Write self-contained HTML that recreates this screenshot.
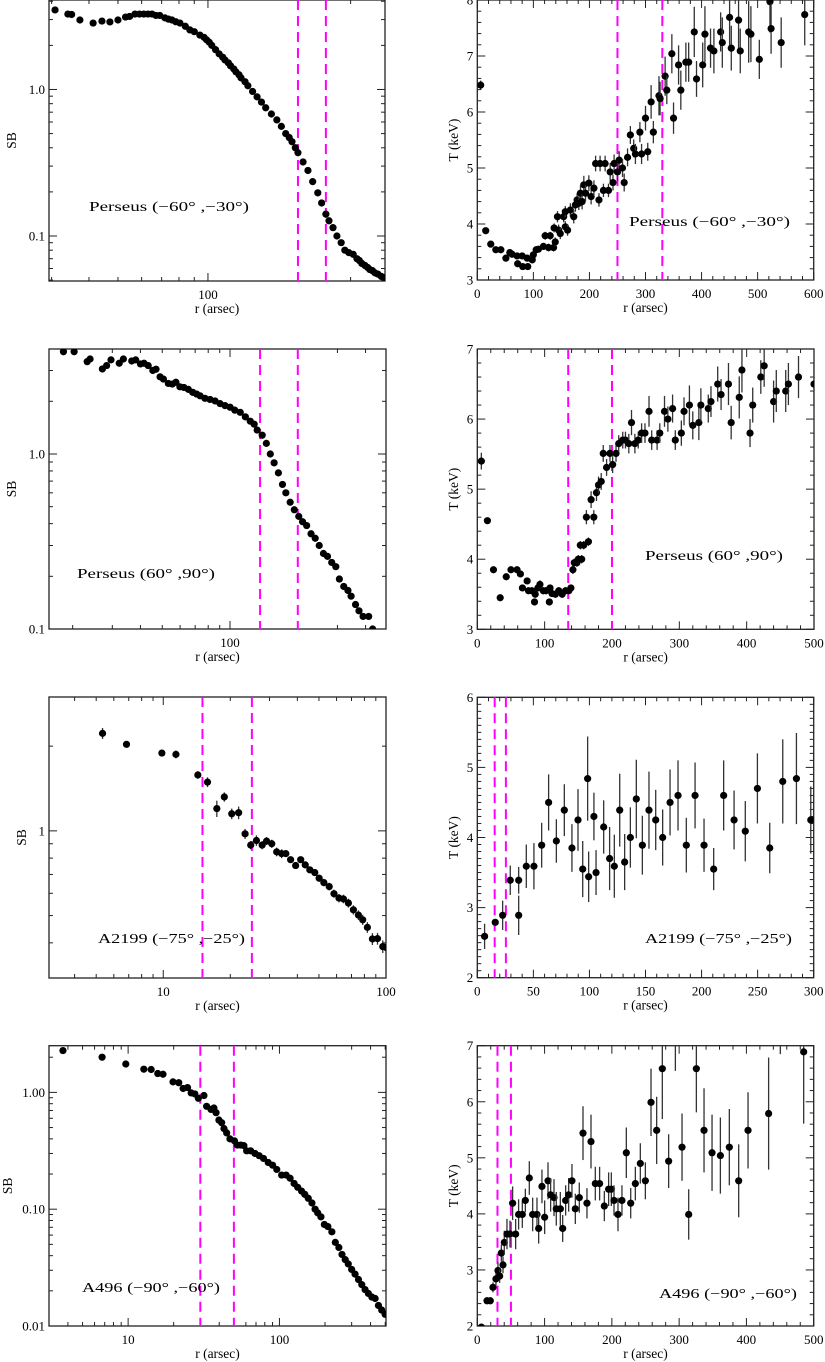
<!DOCTYPE html>
<html><head><meta charset="utf-8"><title>Temperature and surface brightness profiles</title>
<style>
html,body{margin:0;padding:0;background:#fff;}
svg{display:block;}
text{font-family:"Liberation Serif",serif;fill:#000;}
</style></head>
<body>
<svg id="fig" xmlns="http://www.w3.org/2000/svg" width="825" height="1362" viewBox="0 0 825 1362"></svg>
<script>
// ---------- Panel 1: Perseus (-60,-30) SB ----------
const p1R=[30.8,34,35,37.3,41.3,44.2,47,50,53,54.7,57,59,61,63,65,67,69,71.8,73.8,75.8,78,80.6,84,87,90,94,97,99,101,103,106,109,112,114,117,119,122,124,127,129,133,136,141,146,151,156,163,170,176,182,187,191,196,200,208,216,224,233,240,248,254,262,270,279,287,296,306,315,321,327,335,342,348,355,362,370,380,391];
const p1SB=[3.49,3.27,3.25,2.98,2.84,2.93,2.89,2.98,3.12,3.15,3.27,3.27,3.27,3.27,3.27,3.2,3.2,3.08,3.02,2.98,2.9,2.84,2.7,2.55,2.48,2.35,2.27,2.18,2.1,2.0,1.87,1.75,1.66,1.59,1.52,1.45,1.38,1.32,1.26,1.2,1.13,1.06,0.97,0.89,0.82,0.75,0.68,0.62,0.56,0.5,0.47,0.44,0.4,0.37,0.32,0.28,0.235,0.197,0.168,0.141,0.127,0.114,0.1,0.09,0.08,0.077,0.075,0.07,0.068,0.065,0.063,0.061,0.059,0.058,0.056,0.055,0.053,0.052];
const p1Lines=[200,248];
// ---------- Panel 2: Perseus (-60,-30) T ----------
const p2R=[6,15,24,33,42,51,58,62,71,72,80,81,89,90,98,100,105,109,118,121,127,130,136,139,137,143,145,148,154,157,157,161,166,172,175,178,181,184,187,190,193,199,203,208,211,217,219,225,228,234,237,242,244,250,253,259,262,268,273,279,282,290,293,300,304,310,314,324,326,335,338,347,350,359,363,372,377,387,391,402,406,416,422,434,437,450,453,466,469,484,488,503,522,524,542,584];
const p2T=[6.48,3.88,3.64,3.54,3.54,3.39,3.49,3.46,3.43,3.29,3.43,3.24,3.39,3.24,3.36,3.45,3.54,3.55,3.6,3.79,3.58,3.79,3.58,3.68,3.93,4.13,3.89,3.83,4.13,4.22,3.95,3.89,4.25,4.13,4.34,4.43,4.37,4.55,4.4,4.7,4.55,4.73,4.49,4.64,5.08,4.43,5.08,4.6,5.08,4.6,4.93,4.74,5.08,4.93,5.14,5.0,4.74,5.19,5.59,5.35,5.25,5.64,5.25,5.89,5.29,6.18,5.64,6.29,6.24,6.64,6.39,7.04,5.89,6.84,6.39,6.89,6.89,7.43,6.59,6.84,7.39,7.14,7.09,7.43,7.24,7.69,7.14,7.64,7.09,7.43,7.39,6.94,7.97,7.49,7.24,7.74];
const p2E=[0.08,0.04,0.06,0.04,0.04,0.04,0.05,0.05,0.05,0.05,0.05,0.05,0.05,0.05,0.06,0.06,0.06,0.06,0.06,0.07,0.07,0.07,0.07,0.08,0.08,0.1,0.1,0.1,0.1,0.1,0.1,0.1,0.12,0.12,0.12,0.12,0.12,0.14,0.14,0.16,0.14,0.14,0.14,0.14,0.14,0.12,0.14,0.12,0.14,0.12,0.16,0.14,0.16,0.16,0.16,0.16,0.16,0.16,0.16,0.16,0.18,0.18,0.18,0.22,0.16,0.3,0.2,0.35,0.3,0.35,0.25,0.35,0.28,0.35,0.35,0.35,0.35,0.45,0.32,0.4,0.5,0.35,0.4,0.35,0.45,0.5,0.4,0.55,0.4,0.55,0.5,0.35,0.55,0.45,0.45,0.55];
const p2Lines=[250,330];
// ---------- Panel 3: Perseus (60,90) SB ----------
const p3R=[18.2,20.3,23.2,23.9,27.1,28.3,29.6,32.2,33.6,36.6,38.1,40,41.5,43.3,45.4,46.9,48.9,50.6,53.2,55.4,57.5,59.9,62.4,65.3,68.3,71.1,73.6,77.4,81.5,85.8,90.3,95,100,105,111,117,123,128,132,139,145,151,157,164,171,177,185,193,202,210,219,229,239,249,260,271,283,295,306,320,334,345,361,374,390,413,430];
const p3SB=[3.84,3.84,3.37,3.49,3.06,3.2,3.45,3.3,3.49,3.4,3.45,3.27,3.3,3.2,3.0,3.05,2.76,2.68,2.53,2.51,2.57,2.42,2.4,2.34,2.25,2.2,2.15,2.08,2.05,2.01,1.94,1.89,1.85,1.78,1.73,1.63,1.54,1.48,1.37,1.28,1.15,1.0,0.89,0.78,0.67,0.6,0.53,0.48,0.44,0.41,0.39,0.35,0.33,0.30,0.27,0.26,0.24,0.227,0.193,0.175,0.166,0.154,0.138,0.127,0.118,0.118,0.1];
const p3Lines=[136,200];
// ---------- Panel 4: Perseus (60,90) T ----------
const p4R=[6,15,24,34,43,50,59,64,67,74,76,81,85,86,90,93,98,102,107,108,111,116,121,126,131,136,139,142,144,148,150,155,153,158,162,165,169,173,177,180,184,187,192,197,201,206,210,216,220,225,229,234,239,244,249,255,259,267,271,278,283,290,294,303,307,315,320,329,332,343,347,357,362,373,377,389,393,405,409,421,426,440,444,458,462,477,500];
const p4T=[5.40,4.55,3.85,3.45,3.75,3.85,3.85,3.79,3.59,3.69,3.55,3.55,3.39,3.5,3.59,3.64,3.55,3.55,3.39,3.59,3.51,3.5,3.55,3.5,3.55,3.55,3.59,3.85,3.95,3.95,4.0,4.0,4.2,4.2,4.6,4.25,4.85,4.6,4.95,5.06,5.11,5.51,5.31,5.51,5.35,5.51,5.65,5.7,5.7,5.65,5.95,5.65,5.7,5.8,5.8,6.11,5.7,5.7,5.8,6.11,6.0,6.15,5.7,5.8,6.11,6.2,5.91,5.95,6.2,6.15,6.25,6.5,6.35,6.5,5.95,6.31,6.7,5.8,6.2,6.6,6.76,6.25,6.4,6.4,6.5,6.6,6.5];
const p4E=[0.12,0.04,0.04,0.04,0.04,0.04,0.04,0.04,0.04,0.04,0.04,0.05,0.05,0.05,0.05,0.06,0.05,0.05,0.05,0.05,0.05,0.05,0.05,0.05,0.05,0.05,0.05,0.06,0.06,0.06,0.06,0.06,0.06,0.06,0.1,0.06,0.12,0.1,0.12,0.12,0.12,0.12,0.12,0.12,0.12,0.12,0.12,0.12,0.12,0.14,0.18,0.14,0.12,0.14,0.14,0.22,0.14,0.14,0.14,0.22,0.18,0.2,0.14,0.18,0.2,0.28,0.2,0.25,0.24,0.2,0.22,0.25,0.22,0.3,0.24,0.3,0.32,0.2,0.25,0.24,0.3,0.3,0.3,0.3,0.3,0.3,0.3];
const p4Lines=[135,200];
// ---------- Panel 5: A2199 (-75,-25) SB ----------
const p5R=[5.34,6.84,9.86,11.4,14.3,15.8,17.4,18.8,20.3,21.8,23.3,24.7,26.2,27.8,29.1,30.7,32.3,34.0,35.5,37.3,39.3,41.4,43.4,45.5,47.9,50.1,52.6,55.6,58.4,61.5,64.4,67.8,71.4,75.2,78.6,82.5,86.9,91.6,96.7,100];
const p5SB=[2.22,2.03,1.89,1.87,1.58,1.49,1.20,1.32,1.15,1.16,0.976,0.89,0.924,0.89,0.92,0.90,0.842,0.83,0.83,0.79,0.753,0.79,0.757,0.727,0.711,0.679,0.655,0.634,0.598,0.577,0.573,0.554,0.524,0.502,0.483,0.454,0.413,0.414,0.388,0.385];
const p5E=[0.1,0.05,0.05,0.06,0.05,0.06,0.08,0.05,0.05,0.06,0.04,0.03,0.04,0.03,0.03,0.03,0.03,0.03,0.02,0.02,0.02,0.02,0.02,0.02,0.02,0.02,0.02,0.02,0.02,0.02,0.02,0.02,0.02,0.02,0.02,0.02,0.02,0.02,0.02,0.02];
const p5Lines=[15,25];
// ---------- Panel 6: A2199 (-75,-25) T ----------
const p6R=[6.5,16,22.6,29.4,36.9,36.9,43.7,50.5,57.4,63.6,70.5,77.6,84.4,89.8,94,98.4,99.3,104,105.9,112.7,118,122.2,127,131.4,136.5,141.8,147.2,153.1,159.1,165.3,171.9,179,186.4,194.2,202.2,210.8,219.7,229,239,249.8,260.8,272.4,284.6,297.4];
const p6T=[2.59,2.79,2.89,3.39,3.39,2.89,3.59,3.59,3.89,4.5,3.95,4.39,3.85,4.25,3.55,4.84,3.44,4.3,3.5,4.15,3.7,3.59,4.39,3.65,4.0,4.55,3.89,4.39,4.25,4.0,4.5,4.6,3.89,4.6,3.89,3.55,4.6,4.25,4.09,4.7,3.85,4.8,4.84,4.25];
const p6E=[0.18,0.05,0.21,0.21,0.19,0.28,0.31,0.33,0.32,0.40,0.31,0.37,0.34,0.44,0.40,0.6,0.36,0.34,0.32,0.38,0.45,0.45,0.52,0.40,0.43,0.56,0.42,0.55,0.43,0.40,0.47,0.5,0.39,0.47,0.38,0.3,0.5,0.42,0.43,0.5,0.36,0.6,0.65,0.48];
const p6Lines=[15.5,25.5];
// ---------- Panel 7: A496 (-90,-60) SB ----------
const p7R=[3.71,6.73,9.65,12.7,14.2,15.7,17.0,19.8,21.6,23.1,24.7,26.1,27.6,29.1,31.7,33.0,35.3,36.9,38.1,39.8,41.5,43.0,44.8,47.1,50.4,52.7,55.5,58.2,60.7,64.5,68.9,73.4,78.5,84.3,90.1,96.0,103.4,110.7,117.6,125,132,140,147,155,164,172,179,188,198,209,222,234,247,259,272,285,300,316,333,350,368,387,408,429,451,474,499];
const p7SB=[2.28,2.0,1.75,1.58,1.57,1.45,1.43,1.23,1.21,1.08,1.1,0.99,0.97,0.89,0.94,0.76,0.715,0.735,0.67,0.58,0.55,0.49,0.45,0.40,0.385,0.354,0.354,0.35,0.316,0.316,0.30,0.287,0.272,0.251,0.238,0.219,0.196,0.196,0.184,0.166,0.154,0.143,0.134,0.124,0.113,0.10,0.093,0.086,0.074,0.071,0.064,0.052,0.047,0.041,0.037,0.034,0.0305,0.0278,0.025,0.0226,0.0205,0.019,0.0177,0.0172,0.015,0.0137,0.0126];
const p7Lines=[30,50];
// ---------- Panel 8: A496 (-90,-60) T ----------
const p8R=[6,14.4,19.3,23.3,27.7,30.7,33.2,35.7,38.2,40.1,44.1,48.6,52.5,57,61.4,66.9,71.4,77.3,82.3,88.7,91.2,96.1,100.1,105.1,109,114,117.4,123.4,126.9,131.3,135.8,140.7,145.7,151.6,157.1,163,169,175.4,181.8,188.8,195.2,199.2,203.2,209.1,215,221.5,228,234.9,242.3,249.8,258.2,266.6,275,284.4,294.4,304.3,314.2,325.6,337,348.9,361.3,374.6,388.5,402.4,433,450.4,485.1];
const p8T=[1.98,2.45,2.45,2.69,2.84,2.99,2.89,3.30,3.09,3.49,3.64,3.64,4.19,3.64,3.99,3.99,4.24,4.64,3.99,3.99,3.74,4.49,3.94,4.59,4.34,4.29,4.09,4.09,3.74,4.24,4.34,4.59,4.09,4.29,5.44,4.19,5.29,4.54,4.54,4.14,4.44,4.44,4.24,3.99,4.24,5.09,4.19,4.54,4.9,4.59,5.99,5.49,6.59,4.94,7.4,5.19,3.99,6.59,5.49,5.09,5.04,5.19,4.59,5.49,5.79,7.6,6.89];
const p8E=[0.02,0.06,0.06,0.09,0.12,0.15,0.12,0.15,0.15,0.21,0.27,0.24,0.3,0.27,0.27,0.24,0.21,0.3,0.3,0.3,0.27,0.3,0.3,0.33,0.3,0.33,0.3,0.3,0.24,0.27,0.3,0.3,0.27,0.27,0.48,0.27,0.48,0.3,0.3,0.27,0.3,0.3,0.27,0.3,0.27,0.45,0.27,0.3,0.36,0.33,0.6,0.6,0.9,0.48,0.85,0.6,0.45,0.78,0.75,0.68,0.68,0.68,0.65,0.68,1.0,0.75,1.28];
const p8Lines=[30,50];

const NS='http://www.w3.org/2000/svg';
const svg=document.getElementById('fig');
function el(tag,attrs,parent){const e=document.createElementNS(NS,tag);for(const k in attrs)e.setAttribute(k,attrs[k]);(parent||svg).appendChild(e);return e;}
let clipId=0;

function drawPanel(p){
  const g=el('g',{});
  
  
  const L=Math.log10;
  const tx=v=>p.xlog?(L(v)-L(p.xr[0]))/(L(p.xr[1])-L(p.xr[0])):(v-p.xr[0])/(p.xr[1]-p.xr[0]);
  const ty=v=>p.ylog?(L(v)-L(p.yr[0]))/(L(p.yr[1])-L(p.yr[0])):(v-p.yr[0])/(p.yr[1]-p.yr[0]);
  const sx=v=>p.x0+tx(v)*(p.x1-p.x0);
  const sy=v=>p.y1-ty(v)*(p.y1-p.y0);
  const cid='clip'+(clipId++);
  const cp=el('clipPath',{id:cid},g);
  el('rect',{x:p.x0,y:p.y0,width:p.x1-p.x0,height:p.y1-p.y0},cp);
  // ticks
  const tk=el('g',{stroke:'#222','stroke-width':1},g);
  
  
  function ticksFor(log,range,maj,min){
    const out=[];
    if(log){for(let k=-3;k<4;k++){for(let m=1;m<10;m++){const v=m*Math.pow(10,k);if(v>=range[0]*0.999&&v<=range[1]*1.001)out.push([v,m===1]);}}}
    else{const n=Math.round((range[1]-range[0])/min);for(let i=0;i<=n;i++){const v=range[0]+i*min;out.push([v,Math.abs(v/maj-Math.round(v/maj))<1e-6]);}}
    return out;
  }
  ticksFor(p.xlog,p.xr,p.xmaj,p.xmin).forEach(([v,M])=>{const x=sx(v),l=M?8:4;
    el('line',{x1:x,y1:p.y1,x2:x,y2:p.y1-l},tk);el('line',{x1:x,y1:p.y0,x2:x,y2:p.y0+l},tk);});
  ticksFor(p.ylog,p.yr,p.ymaj,p.ymin).forEach(([v,M])=>{const y=sy(v),l=M?8:4;
    el('line',{x1:p.x0,y1:y,x2:p.x0+l,y2:y},tk);el('line',{x1:p.x1,y1:y,x2:p.x1-l,y2:y},tk);});
  const frame=el('rect',{x:p.x0,y:p.y0,width:p.x1-p.x0,height:p.y1-p.y0,fill:'none',stroke:'#222','stroke-width':1.3},g);
  
  
  // tick labels
  p.xl.forEach(([v,s])=>{const t=el('text',{x:sx(v),y:p.y1+18,'text-anchor':'middle','font-size':13},g);t.textContent=s;
    
    });
  p.yl.forEach(([v,s])=>{const t=el('text',{x:p.x0-4,y:sy(v)+4.5,'text-anchor':'end','font-size':13},g);t.textContent=s;
    
    });
  // axis titles
  const xt=el('text',{x:(p.x0+p.x1)/2,y:p.y1+32,'text-anchor':'middle','font-size':13.5},g);xt.textContent='r (arsec)';
  
  
  const ycx=p.ytx, ycy=(p.y0+p.y1)/2;
  const yt=el('text',{x:ycx,y:ycy,'text-anchor':'middle','font-size':13.5,transform:`rotate(-90 ${ycx} ${ycy})`},g);yt.textContent=p.ytitle;
  
  
  // dashed lines
  p.lines.forEach(v=>{const ln=el('line',{x1:sx(v),x2:sx(v),y1:p.y0,y2:p.y1,stroke:'#ff00ff','stroke-width':2,'stroke-dasharray':'10 6'},g);
    
    });
  // data
  const dg=el('g',{'clip-path':`url(#${cid})`},g);
  
  
  p.xs.forEach((v,i)=>{
    const x=sx(v),y=sy(p.ys[i]);
    if(p.es){const e=p.es[i];
      const eb=el('line',{x1:x,x2:x,y1:sy(p.ys[i]+e),y2:sy(Math.max(p.ys[i]-e,1e-6)),stroke:'#333','stroke-width':1.3},dg);
      
      }
    const c=el('circle',{cx:x,cy:y,r:3.6,fill:'#000'},dg);
    
    
  });
  const an=el('text',{x:p.ax,y:p.ay,'font-size':14,textLength:p.aw,lengthAdjust:'spacingAndGlyphs'},g);an.textContent=p.ann;
  
  
}

drawPanel({name:'sb-perseus-m60-m30',x0:49,x1:385,y0:0,y1:281,xlog:true,ylog:true,xr:[29.4,391],yr:[0.0493,4.08],
  xs:p1R,ys:p1SB,es:null,lines:p1Lines,xl:[[100,'100']],yl:[[1,'1.0'],[0.1,'0.1']],ytitle:'SB',ytx:16,
  ann:'Perseus   (\u221260\u00b0 ,\u221230\u00b0)',ax:89,ay:211,aw:160});
drawPanel({name:'t-perseus-m60-m30',x0:477.3,x1:813.7,y0:0,y1:280,xlog:false,ylog:false,xr:[0,600],yr:[3,8],xmaj:100,xmin:20,ymaj:1,ymin:0.2,
  xs:p2R,ys:p2T,es:p2E,lines:p2Lines,xl:[[0,'0'],[100,'100'],[200,'200'],[300,'300'],[400,'400'],[500,'500'],[600,'600']],
  yl:[[3,'3'],[4,'4'],[5,'5'],[6,'6'],[7,'7'],[8,'8']],ytitle:'T (keV)',ytx:458,
  ann:'Perseus   (\u221260\u00b0 ,\u221230\u00b0)',ax:629,ay:226,aw:161});
drawPanel({name:'sb-perseus-60-90',x0:49,x1:386,y0:349,y1:629,xlog:true,ylog:true,xr:[15.7,493],yr:[0.1,3.98],
  xs:p3R,ys:p3SB,es:null,lines:p3Lines,xl:[[100,'100']],yl:[[1,'1.0'],[0.1,'0.1']],ytitle:'SB',ytx:16,
  ann:'Perseus   (60\u00b0 ,90\u00b0)',ax:77,ay:578,aw:138});
drawPanel({name:'t-perseus-60-90',x0:477.3,x1:814,y0:349,y1:629.3,xlog:false,ylog:false,xr:[0,500],yr:[3,7],xmaj:100,xmin:20,ymaj:1,ymin:0.2,
  xs:p4R,ys:p4T,es:p4E,lines:p4Lines,xl:[[0,'0'],[100,'100'],[200,'200'],[300,'300'],[400,'400'],[500,'500']],
  yl:[[3,'3'],[4,'4'],[5,'5'],[6,'6'],[7,'7']],ytitle:'T (keV)',ytx:458,
  ann:'Perseus   (60\u00b0 ,90\u00b0)',ax:645,ay:560,aw:138});
drawPanel({name:'sb-a2199',x0:49,x1:386,y0:697,y1:978,xlog:true,ylog:true,xr:[3.07,100],yr:[0.3,2.99],
  xs:p5R,ys:p5SB,es:p5E,lines:p5Lines,xl:[[10,'10'],[100,'100']],yl:[[1,'1']],ytitle:'SB',ytx:26,
  ann:'A2199  (\u221275\u00b0 ,\u221225\u00b0)',ax:98,ay:943,aw:147});
drawPanel({name:'t-a2199',x0:477.3,x1:813.7,y0:697.3,y1:977.7,xlog:false,ylog:false,xr:[0,300],yr:[2,6],xmaj:50,xmin:10,ymaj:1,ymin:0.1,
  xs:p6R,ys:p6T,es:p6E,lines:p6Lines,xl:[[0,'0'],[50,'50'],[100,'100'],[150,'150'],[200,'200'],[250,'250'],[300,'300']],
  yl:[[2,'2'],[3,'3'],[4,'4'],[5,'5'],[6,'6']],ytitle:'T (keV)',ytx:458,
  ann:'A2199  (\u221275\u00b0 ,\u221225\u00b0)',ax:645,ay:943,aw:147});
drawPanel({name:'sb-a496',x0:49,x1:386,y0:1045.7,y1:1326,xlog:true,ylog:true,xr:[3.0,506],yr:[0.01,2.51],
  xs:p7R,ys:p7SB,es:null,lines:p7Lines,xl:[[10,'10'],[100,'100']],yl:[[1,'1.00'],[0.1,'0.10'],[0.01,'0.01']],ytitle:'SB',ytx:12,
  ann:'A496   (\u221290\u00b0 ,\u221260\u00b0)',ax:82,ay:1292,aw:138});
drawPanel({name:'t-a496',x0:477.3,x1:813.7,y0:1045.7,y1:1326,xlog:false,ylog:false,xr:[0,500],yr:[2,7],xmaj:100,xmin:20,ymaj:1,ymin:0.2,
  xs:p8R,ys:p8T,es:p8E,lines:p8Lines,xl:[[0,'0'],[100,'100'],[200,'200'],[300,'300'],[400,'400'],[500,'500']],
  yl:[[2,'2'],[3,'3'],[4,'4'],[5,'5'],[6,'6'],[7,'7']],ytitle:'T (keV)',ytx:458,
  ann:'A496   (\u221290\u00b0 ,\u221260\u00b0)',ax:659,ay:1298,aw:138});
</script>
</body></html>
